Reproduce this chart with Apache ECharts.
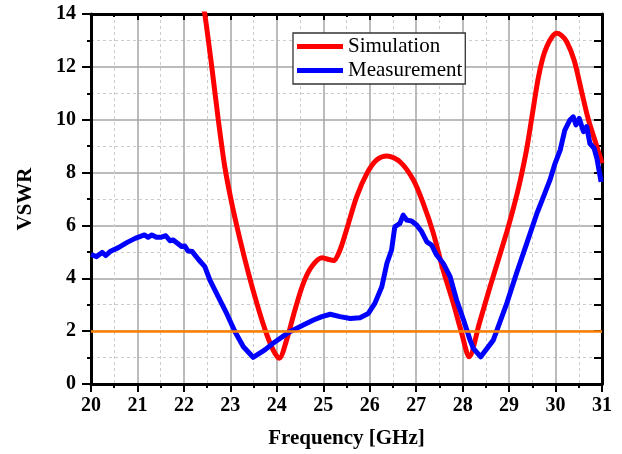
<!DOCTYPE html>
<html>
<head>
<meta charset="utf-8">
<script src="https://cdn.jsdelivr.net/npm/echarts@6/dist/echarts.min.js"></script>
<style>
html,body{margin:0;padding:0;background:#fff;}
#chart{width:622px;height:454px;}
</style>
</head>
<body>
<div id="chart"></div>
<script>
// ---- data ----
const seriesNames = ['Simulation', 'Measurement'];
const xTitle = 'Frequency [GHz]';
const yTitle = 'VSWR';
const xRange = [20, 31];
const yRange = [0, 14];
const threshold = 2;

const simFreq = [22.42, 22.45, 22.60, 22.74, 22.88, 23.03, 23.21, 23.39, 23.57, 23.75, 23.92, 24.05,
  24.21, 24.39, 24.57, 24.75, 24.97, 25.10, 25.22, 25.36, 25.50, 25.72, 25.94, 26.15, 26.37,
  26.65, 26.94, 27.15, 27.37, 27.58, 27.80, 27.98, 28.14, 28.36, 28.59, 28.95, 29.10, 29.24,
  29.38, 29.50, 29.62, 29.72, 29.81, 29.92, 30.02, 30.12, 30.24, 30.40, 30.55, 30.70, 30.85, 31.00];
const simVswr = [14.2, 14.0, 12.0, 10.0, 8.22, 6.84, 5.45, 4.19, 3.05, 2.04, 1.29, 0.97,
  1.66, 2.80, 3.81, 4.44, 4.78, 4.72, 4.67, 5.07, 5.83, 7.09, 7.97, 8.48, 8.63,
  8.41, 7.72, 6.84, 5.70, 4.31, 3.05, 1.92, 1.03, 2.30, 3.68, 5.75, 6.70, 7.70,
  8.90, 10.2, 11.5, 12.3, 12.76, 13.12, 13.27, 13.20, 12.95, 12.25, 11.15, 10.05, 9.2, 8.35];

const measFreq = [20.00, 20.12, 20.24, 20.32, 20.41, 20.59, 20.77, 20.95, 21.15, 21.23, 21.31, 21.41,
  21.50, 21.61, 21.70, 21.77, 21.95, 22.02, 22.09, 22.18, 22.31, 22.45, 22.56, 22.74, 22.92,
  23.10, 23.28, 23.49, 23.75, 23.92, 24.28, 24.57, 24.79, 24.97, 25.15, 25.36, 25.58, 25.79,
  25.97, 26.11, 26.26, 26.37, 26.47, 26.54, 26.65, 26.72, 26.80, 26.90, 27.01, 27.12, 27.23,
  27.33, 27.44, 27.58, 27.73, 27.87, 28.02, 28.16, 28.23, 28.39, 28.66, 28.95, 29.16, 29.38,
  29.60, 29.77, 29.88, 29.99, 30.10, 30.20, 30.31, 30.38, 30.44, 30.51, 30.60, 30.67, 30.74,
  30.83, 30.89, 30.98];
const measVswr = [4.90, 4.82, 4.98, 4.86, 5.01, 5.16, 5.35, 5.51, 5.64, 5.55, 5.64, 5.55,
  5.55, 5.61, 5.42, 5.45, 5.20, 5.22, 5.03, 5.01, 4.72, 4.44, 3.93, 3.30, 2.67,
  1.98, 1.41, 1.01, 1.30, 1.54, 1.98, 2.23, 2.42, 2.55, 2.64, 2.55, 2.48, 2.51,
  2.67, 3.05, 3.68, 4.57, 5.07, 5.95, 6.08, 6.39, 6.20, 6.17, 6.02, 5.76, 5.38,
  5.26, 4.88, 4.57, 4.06, 3.18, 2.42, 1.66, 1.35, 1.03, 1.66, 3.05, 4.19, 5.32,
  6.46, 7.22, 7.72, 8.35, 8.85, 9.61, 9.99, 10.11, 9.80, 10.05, 9.55, 9.74, 9.10,
  8.92, 8.54, 7.65];

// ---- chart ----
const pair = (xs, ys) => xs.map((x, i) => [x, ys[i]]);
const serif = 'Liberation Serif, Times New Roman, serif';
const chart = echarts.init(document.getElementById('chart'), null, {renderer: 'canvas'});

const frameLine = {show: true, onZero: false, lineStyle: {color: '#000', width: 3}};
const labelStyle = {fontFamily: serif, fontWeight: 'bold', fontSize: 20, color: '#000'};

chart.setOption({
  animation: false,
  backgroundColor: '#fff',
  grid: {left: 91, right: 20, top: 14, bottom: 70, containLabel: false},
  legend: {
    data: seriesNames,
    orient: 'vertical',
    left: 293, top: 33,
    icon: 'rect',
    itemWidth: 46, itemHeight: 5,
    itemGap: 3,
    padding: [3, 3, 3, 4],
    backgroundColor: '#fff',
    borderColor: '#333', borderWidth: 1.3,
    textStyle: {fontFamily: serif, fontSize: 21, color: '#000'}
  },
  xAxis: [{
    type: 'value', position: 'bottom', min: xRange[0], max: xRange[1], interval: 1,
    name: xTitle, nameLocation: 'middle', nameGap: 44,
    nameTextStyle: {fontFamily: serif, fontWeight: 'bold', fontSize: 21, color: '#000'},
    axisLine: frameLine,
    axisTick: {show: true, inside: false, length: 8, lineStyle: {color: '#000', width: 2}},
    minorTick: {show: true, splitNumber: 2, length: 4, lineStyle: {color: '#000', width: 2}},
    axisLabel: Object.assign({margin: 12}, labelStyle),
    splitLine: {show: true, lineStyle: {color: '#a6a6a6', width: 1.5}},
    minorSplitLine: {show: true, lineStyle: {color: '#cccccc', width: 1, type: [3, 3]}}
  }, {
    type: 'value', position: 'top', min: xRange[0], max: xRange[1], interval: 1,
    axisLine: frameLine,
    axisTick: {show: true, inside: true, length: 6, lineStyle: {color: '#000', width: 2}},
    minorTick: {show: true, splitNumber: 2, length: 3, lineStyle: {color: '#000', width: 2}},
    axisLabel: {show: false},
    splitLine: {show: false}
  }],
  yAxis: [{
    type: 'value', position: 'left', min: yRange[0], max: yRange[1], interval: 2,
    name: yTitle, nameLocation: 'middle', nameGap: 55, nameRotate: 90,
    nameTextStyle: {fontFamily: serif, fontWeight: 'bold', fontSize: 21, color: '#000'},
    axisLine: frameLine,
    axisTick: {show: true, inside: false, length: 9, lineStyle: {color: '#000', width: 2}},
    minorTick: {show: true, splitNumber: 2, length: 4, lineStyle: {color: '#000', width: 2}},
    axisLabel: Object.assign({margin: 15}, labelStyle),
    splitLine: {show: true, lineStyle: {color: '#a6a6a6', width: 1.5}},
    minorSplitLine: {show: true, lineStyle: {color: '#cccccc', width: 1, type: [3, 3]}}
  }, {
    type: 'value', position: 'right', min: yRange[0], max: yRange[1], interval: 1,
    axisLine: frameLine,
    axisTick: {show: true, inside: true, length: 8, lineStyle: {color: '#000', width: 2}},
    axisLabel: {show: false},
    splitLine: {show: false}
  }],
  series: [{
    name: 'threshold', type: 'line', data: [], z: 1,
    markLine: {
      silent: true, symbol: 'none', animation: false,
      label: {show: false},
      lineStyle: {color: '#ff8000', width: 2.5, type: 'solid'},
      data: [{yAxis: threshold}]
    }
  }, {
    name: seriesNames[0], type: 'line', data: pair(simFreq, simVswr),
    showSymbol: false, smooth: 0.3, clip: true, z: 3,
    lineStyle: {color: '#ff0000', width: 5}, itemStyle: {color: '#ff0000'}
  }, {
    name: seriesNames[1], type: 'line', data: pair(measFreq, measVswr),
    showSymbol: false, smooth: false, clip: true, z: 4,
    lineStyle: {color: '#0000ff', width: 5, join: 'round'}, itemStyle: {color: '#0000ff'}
  }]
});
</script>
</body>
</html>
